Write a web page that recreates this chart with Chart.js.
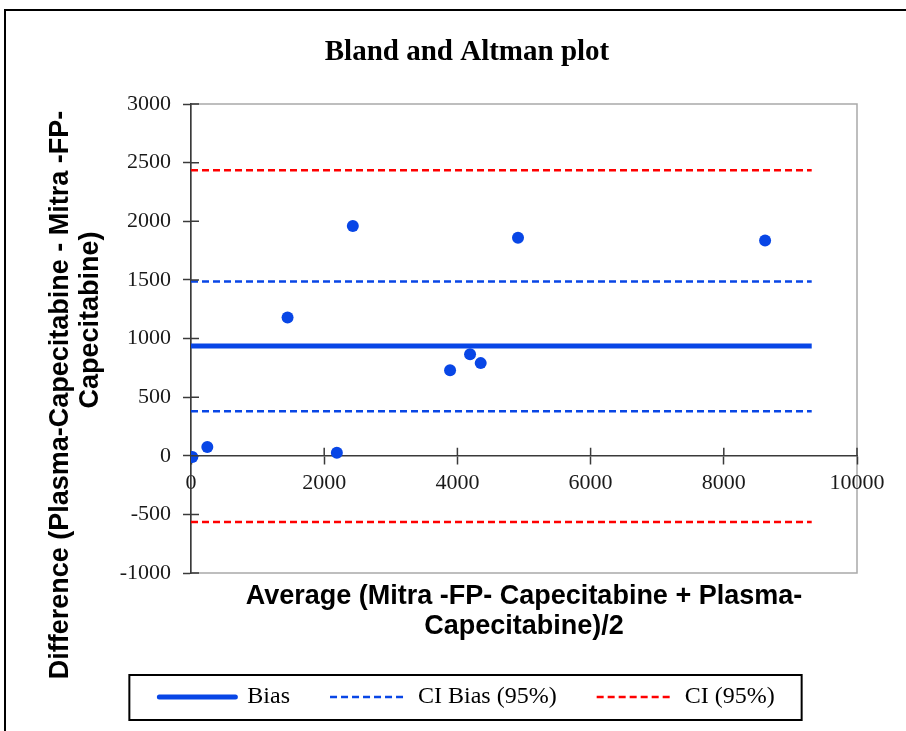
<!DOCTYPE html>
<html>
<head>
<meta charset="utf-8">
<title>Bland and Altman plot</title>
<script src="https://cdn.jsdelivr.net/npm/chart.js@4.4.1/dist/chart.umd.min.js"></script>
<style>
  body { margin: 0; background: #fff; }
  #wrap { position: relative; width: 906px; height: 731px; overflow: hidden; }
  #frame { position: absolute; left: 4px; top: 9px; width: 1000px; height: 1000px;
           border-left: 2px solid #000; border-top: 2px solid #000; }
  canvas { position: absolute; left: 0; top: 0; }
</style>
</head>
<body>
<div id="wrap">
  <div id="frame"></div>
  <canvas id="baChart" width="906" height="731"></canvas>
</div>
<script>
// values
const avgValues = [20, 245, 1450, 2190, 2430, 3890, 4190, 4350, 4910, 8620];
const diffValues = [-10, 75, 1180, 25, 1960, 730, 865, 790, 1860, 1835];
const bias = 937;
const ciBias = [380, 1487];
const ciLimits = [-566, 2436];
const lineSpan = [0, 9320];
const seriesLabels = ["Bias", "CI Bias (95%)", "CI (95%)"];
const xRange = [0, 10000];
const xStep = 2000;
const yRange = [-1000, 3000];
const yStep = 500;
const chartTitle = "Bland and Altman plot";
const xTitle = ["Average (Mitra -FP- Capecitabine + Plasma-", "Capecitabine)/2"];
const yTitle = ["Difference (Plasma-Capecitabine - Mitra -FP-", "Capecitabine)"];

const BLUE = "#0846e6";
const RED = "#ff0000";
const AXIS = "#3a3a3a";
const SERIF = "'Liberation Serif', 'Times New Roman', serif";
const SANS = "'Liberation Sans', Arial, sans-serif";

function hline(y) {
  return lineSpan.map(x => ({ x: x, y: y }));
}

// grey border round the plot area (drawn before the axes)
const plotFrame = {
  id: "plotFrame",
  beforeDraw(chart) {
    const { ctx, chartArea: a } = chart;
    ctx.save();
    ctx.strokeStyle = "#a9a9a9";
    ctx.lineWidth = 1.5;
    ctx.strokeRect(a.left, a.top, a.right - a.left, a.bottom - a.top);
    ctx.restore();
  }
};

// Excel style ticks that cross the axis: add the inner half
const crossTicks = {
  id: "crossTicks",
  afterDraw(chart) {
    const { ctx, scales } = chart;
    const y0 = scales.y.getPixelForValue(0);
    ctx.save();
    ctx.strokeStyle = AXIS;
    ctx.lineWidth = 1.5;
    ctx.beginPath();
    scales.y.ticks.forEach(t => {
      const py = scales.y.getPixelForValue(t.value);
      ctx.moveTo(scales.y.right, py);
      ctx.lineTo(scales.y.right + 8, py);
    });
    scales.x0.ticks.forEach(t => {
      if (t.value === 0) return;
      const px = scales.x0.getPixelForValue(t.value);
      ctx.moveTo(px, y0);
      ctx.lineTo(px, y0 - 8);
    });
    ctx.stroke();
    ctx.restore();
  }
};

// the y title lines are not centred on one point in the original,
// so they are drawn here rather than with the scale title
const yTitleLines = {
  id: "yTitleLines",
  afterDraw(chart) {
    const ctx = chart.ctx;
    const centres = [[61, 395], [91, 320]];
    ctx.save();
    ctx.font = "bold 27px " + SANS;
    ctx.fillStyle = "#000";
    ctx.textAlign = "center";
    ctx.textBaseline = "middle";
    yTitle.forEach((line, i) => {
      ctx.save();
      ctx.translate(centres[i][0], centres[i][1]);
      ctx.rotate(-Math.PI / 2);
      ctx.fillText(line, 0, 0);
      ctx.restore();
    });
    ctx.restore();
  }
};

// black box round the legend
const legendBox = {
  id: "legendBox",
  afterDraw(chart) {
    const boxes = chart.legend && chart.legend.legendHitBoxes;
    if (!boxes || !boxes.length) return;
    const first = boxes[0];
    const last = boxes[boxes.length - 1];
    const x1 = first.left - 30;
    const x2 = last.left + last.width + 27;
    const y1 = first.top - 10;
    const y2 = first.top + first.height + 11;
    const ctx = chart.ctx;
    ctx.save();
    ctx.strokeStyle = "#000";
    ctx.lineWidth = 2;
    ctx.strokeRect(x1, y1, x2 - x1, y2 - y1);
    ctx.restore();
  }
};

const tickText = v => String(v);

new Chart(document.getElementById("baChart"), {
  type: "scatter",
  data: {
    datasets: [
      {
        type: "scatter",
        label: "Differences",
        data: avgValues.map((x, i) => ({ x: x, y: diffValues[i] })),
        backgroundColor: BLUE,
        borderWidth: 0,
        pointRadius: 6,
        legendHidden: true
      },
      {
        type: "line",
        label: seriesLabels[0],
        data: hline(bias),
        borderColor: BLUE,
        borderWidth: 5,
        pointRadius: 0
      },
      {
        type: "line",
        label: seriesLabels[1],
        data: hline(ciBias[1]),
        borderColor: BLUE,
        borderWidth: 2.5,
        borderDash: [7, 4],
        pointRadius: 0
      },
      {
        type: "line",
        label: seriesLabels[1],
        data: hline(ciBias[0]),
        borderColor: BLUE,
        borderWidth: 2.5,
        borderDash: [7, 4],
        pointRadius: 0,
        legendHidden: true
      },
      {
        type: "line",
        label: seriesLabels[2],
        data: hline(ciLimits[1]),
        borderColor: RED,
        borderWidth: 2.5,
        borderDash: [7, 4],
        pointRadius: 0
      },
      {
        type: "line",
        label: seriesLabels[2],
        data: hline(ciLimits[0]),
        borderColor: RED,
        borderWidth: 2.5,
        borderDash: [7, 4],
        pointRadius: 0,
        legendHidden: true
      }
    ]
  },
  options: {
    responsive: false,
    animation: false,
    layout: { padding: { top: 0, left: 77, right: 49, bottom: 12 } },
    plugins: {
      tooltip: { enabled: false },
      title: {
        display: true,
        text: chartTitle,
        color: "#000",
        font: { family: SERIF, size: 29, weight: "bold", lineHeight: 1.2 },
        padding: { top: 35, bottom: 34.2 }
      },
      legend: {
        position: "bottom",
        labels: {
          usePointStyle: true,
          pointStyle: "line",
          pointStyleWidth: 76,
          padding: 40,
          color: "#000",
          font: { family: SERIF, size: 24 },
          generateLabels: chart =>
            Chart.defaults.plugins.legend.labels.generateLabels(chart).map(item => {
              const ds = chart.data.datasets[item.datasetIndex];
              item.strokeStyle = ds.borderColor;
              item.lineWidth = ds.borderWidth;
              item.lineDash = ds.borderDash || [];
              item.lineCap = ds.borderDash ? "butt" : "round";
              return item;
            }),
          filter: (item, data) => !data.datasets[item.datasetIndex].legendHidden
        }
      }
    },
    scales: {
      x: {
        type: "linear",
        position: "bottom",
        min: xRange[0],
        max: xRange[1],
        ticks: { display: false, stepSize: xStep },
        grid: { display: false, drawTicks: false },
        border: { display: false },
        title: {
          display: true,
          text: xTitle,
          color: "#000",
          font: { family: SANS, size: 27, weight: "bold", lineHeight: 30 / 27 },
          padding: { top: 0, bottom: 3 }
        },
        afterFit: s => { s.height = 72; }
      },
      x0: {
        type: "linear",
        axis: "x",
        position: { y: 0 },
        min: xRange[0],
        max: xRange[1],
        ticks: {
          stepSize: xStep,
          padding: 6,
          color: "#1a1a1a",
          font: { family: SERIF, size: 22 },
          callback: tickText
        },
        grid: { drawOnChartArea: false, tickLength: 8, tickWidth: 1.5, tickColor: AXIS },
        border: { color: AXIS, width: 1.5 }
      },
      y: {
        type: "linear",
        position: "left",
        min: yRange[0],
        max: yRange[1],
        ticks: {
          stepSize: yStep,
          padding: 12,
          color: "#1a1a1a",
          font: { family: SERIF, size: 22 },
          callback: tickText
        },
        grid: { drawOnChartArea: false, tickLength: 8, tickWidth: 1.5, tickColor: AXIS },
        border: { color: AXIS, width: 1.5 },
        afterFit: s => { s.width = 114; }
      }
    }
  },
  plugins: [plotFrame, crossTicks, yTitleLines, legendBox]
});
</script>
</body>
</html>
